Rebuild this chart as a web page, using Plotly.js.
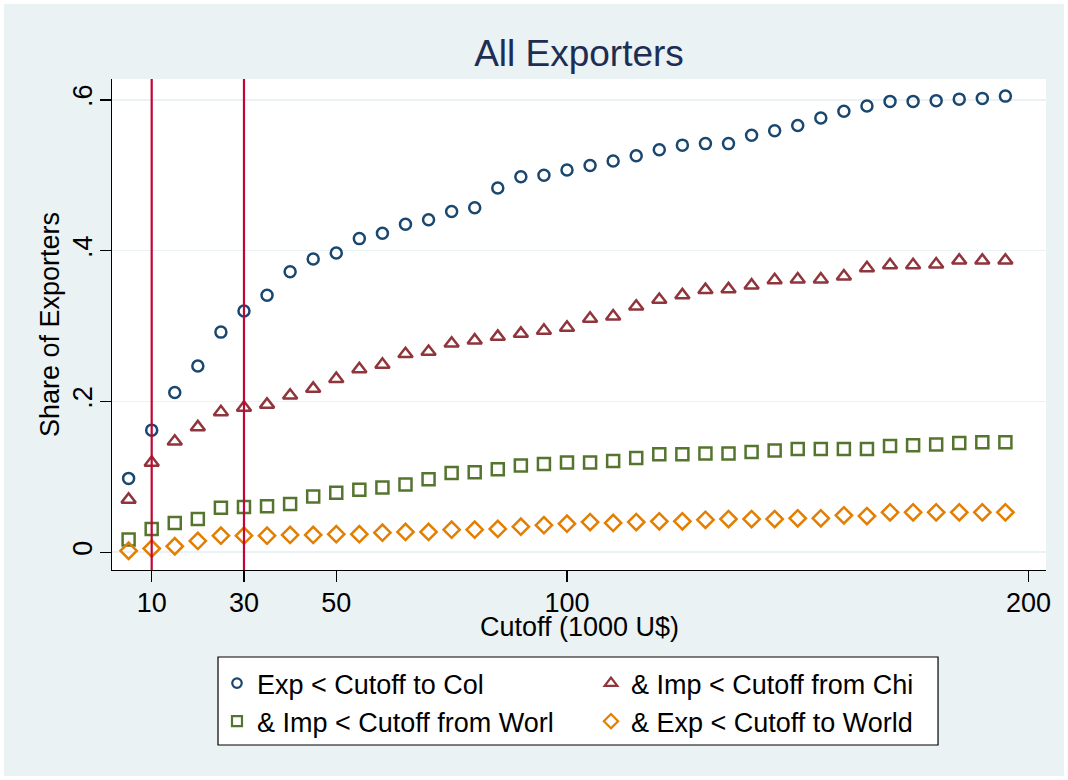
<!DOCTYPE html>
<html>
<head>
<meta charset="utf-8">
<script src="https://cdn.plot.ly/plotly-3.0.1.min.js"></script>
<style>
  html, body { margin: 0; padding: 0; background: #ffffff; }
  #chart { position: absolute; left: 4px; top: 4px; width: 1060px; height: 772px; }
</style>
</head>
<body>
<div id="chart"></div>
<script>
// ---- data ----
const cutoff = [5,10,15,20,25,30,35,40,45,50,55,60,65,70,75,80,85,90,95,100,
                105,110,115,120,125,130,135,140,145,150,155,160,165,170,175,180,185,190,195];

const expCol = [0.098,0.162,0.212,0.247,0.292,0.320,0.341,0.372,0.389,0.397,
                0.416,0.423,0.435,0.441,0.452,0.457,0.483,0.498,0.500,0.507,
                0.513,0.519,0.526,0.534,0.540,0.542,0.542,0.553,0.559,0.566,
                0.576,0.585,0.592,0.598,0.598,0.599,0.601,0.602,0.605];

const impChi = [0.070,0.119,0.147,0.166,0.186,0.192,0.196,0.208,0.217,0.230,
                0.243,0.249,0.263,0.266,0.277,0.281,0.286,0.290,0.294,0.298,
                0.310,0.313,0.326,0.335,0.341,0.348,0.349,0.354,0.361,0.362,
                0.362,0.366,0.377,0.381,0.381,0.382,0.387,0.387,0.387];

const impWorld = [0.017,0.031,0.039,0.044,0.059,0.060,0.061,0.064,0.074,0.079,
                  0.083,0.086,0.090,0.097,0.105,0.106,0.110,0.115,0.117,0.119,
                  0.119,0.121,0.125,0.130,0.130,0.131,0.131,0.133,0.135,0.137,
                  0.137,0.137,0.137,0.141,0.142,0.143,0.145,0.146,0.146];

const expWorld = [0.002,0.005,0.008,0.015,0.022,0.022,0.022,0.023,0.023,0.024,
                  0.024,0.026,0.027,0.027,0.030,0.030,0.031,0.034,0.036,0.038,
                  0.040,0.039,0.040,0.041,0.041,0.043,0.044,0.044,0.044,0.045,
                  0.045,0.049,0.048,0.053,0.053,0.053,0.053,0.053,0.053];

const seriesNames = ['Exp < Cutoff to Col', '& Imp < Cutoff from Chi',
                     '& Imp < Cutoff from Worl', '& Exp < Cutoff to World'];
const refLines = [10, 30];
const xTicks = [10, 30, 50, 100, 200];
const yTickVals = [0, 0.2, 0.4, 0.6];
const yTickText = ['0', '.2', '.4', '.6'];
const xTitle = 'Cutoff (1000 U$)';
const yTitle = 'Share of Exporters';
const chartTitle = 'All Exporters';

// ---- styles ----
const colors = ['#1a476f', '#90353b', '#55752f', '#e37e00'];
const symbols = ['circle-open', 'triangle-up-open', 'square-open', 'diamond-open'];
const sizes = [11, 12.5, 12, 12.5];
const legSizes = [9.5, 11, 10, 11];
const seriesY = [expCol, impChi, impWorld, expWorld];

const FONT = 'Liberation Sans, Arial, Helvetica, sans-serif';

const traces = [];
seriesY.forEach((ys, i) => {
  traces.push({
    type: 'scatter', mode: 'markers', x: cutoff, y: ys,
    name: seriesNames[i], showlegend: false, hoverinfo: 'x+y',
    marker: { symbol: symbols[i], size: sizes[i], color: colors[i],
              line: { color: colors[i], width: 2.5 } }
  });
});
seriesY.forEach((ys, i) => {
  traces.push({
    type: 'scatter', mode: 'markers', x: [null], y: [null],
    name: seriesNames[i], showlegend: true,
    marker: { symbol: symbols[i], size: legSizes[i], color: colors[i],
              line: { color: colors[i], width: 2.2 } }
  });
});

const shapes = refLines.map(v => ({
  type: 'line', xref: 'x', yref: 'paper', x0: v, x1: v, y0: 0, y1: 1,
  line: { color: '#c10534', width: 2.2 }, layer: 'above'
}));
// legend box
shapes.push({
  type: 'rect', xref: 'paper', yref: 'paper',
  x0: 0.1135, x1: 0.8844, y0: -0.3564, y1: -0.1772,
  fillcolor: '#ffffff', line: { color: '#000000', width: 1.2 }, layer: 'below'
});

const layout = {
  width: 1060, height: 772,
  margin: { l: 108, r: 18, t: 75, b: 206 },
  paper_bgcolor: '#eaf2f3',
  plot_bgcolor: '#ffffff',
  font: { family: FONT, color: '#000000', size: 27 },
  title: {
    text: chartTitle,
    font: { family: FONT, size: 37, color: '#1e2d54' },
    x: 0.5, xref: 'paper', xanchor: 'center',
    y: 0.937, yref: 'container', yanchor: 'middle'
  },
  xaxis: {
    range: [1.4, 203.8],
    tickmode: 'array', tickvals: xTicks, ticktext: xTicks.map(String),
    ticks: 'outside', ticklen: 11, tickwidth: 1.3, tickcolor: '#000000',
    ticklabelstandoff: -3,
    showline: true, linecolor: '#000000', linewidth: 1.3,
    showgrid: false, zeroline: false,
    tickfont: { family: FONT, size: 27, color: '#000000' }
  },
  yaxis: {
    range: [-0.0235, 0.6277],
    tickmode: 'array', tickvals: yTickVals, ticktext: yTickText,
    tickangle: -90,
    ticks: 'outside', ticklen: 11, tickwidth: 1.3, tickcolor: '#000000',
    ticklabelstandoff: -3,
    showline: true, linecolor: '#000000', linewidth: 1.3,
    showgrid: true, gridcolor: '#eaf2f3', gridwidth: 1.6,
    zeroline: false,
    tickfont: { family: FONT, size: 27, color: '#000000' },
    title: { text: yTitle, font: { family: FONT, size: 27, color: '#000000' }, standoff: 0 }
  },
  annotations: [{
    text: xTitle, xref: 'paper', yref: 'paper', x: 0.5, y: -0.117,
    xanchor: 'center', yanchor: 'middle', showarrow: false,
    font: { family: FONT, size: 27, color: '#000000' }
  }],
  showlegend: true,
  legend: {
    orientation: 'h', x: 0.1124, y: -0.1813, xanchor: 'left', yanchor: 'top',
    bgcolor: 'rgba(0,0,0,0)', borderwidth: 0,
    entrywidth: 329, entrywidthmode: 'pixels',
    font: { family: FONT, size: 27, color: '#000000' },
    traceorder: 'normal'
  },
  shapes: shapes
};

Plotly.newPlot('chart', traces, layout, { displayModeBar: false, staticPlot: true });
</script>
</body>
</html>
